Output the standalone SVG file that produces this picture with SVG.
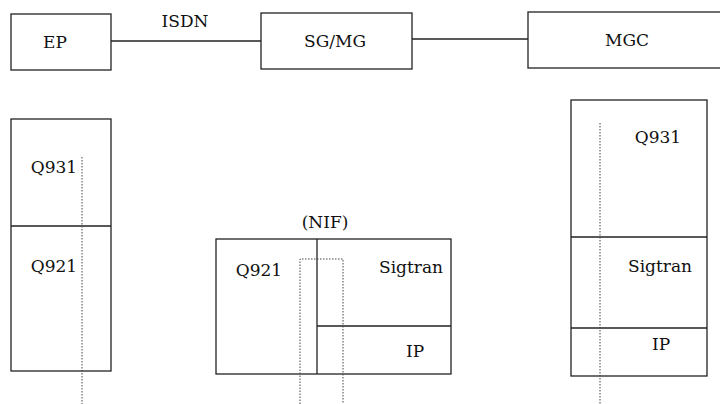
<svg xmlns="http://www.w3.org/2000/svg" width="720" height="404" viewBox="0 0 720 404">
<style>
.box{fill:none;stroke:#222;stroke-width:1.3}
.ln{stroke:#222;stroke-width:1.3;fill:none}
.dot{stroke:#444;stroke-width:1;stroke-dasharray:1.5 1.5;fill:none}
.t{font-size:17px;fill:#111;font-family:"DejaVu Serif",serif}
</style>
<rect width="720" height="404" fill="#fff"/>
<g id="connectors">
<line class="ln" x1="111" y1="41" x2="261" y2="41"/>
<line class="ln" x1="412" y1="39" x2="528" y2="39"/>
<text class="t" x="185" y="27" text-anchor="middle">ISDN</text>
</g>
<g id="EP">
<rect class="box" x="11" y="14" width="100" height="56"/>
<text class="t" x="55" y="48" text-anchor="middle">EP</text>
</g>
<g id="SGMG">
<rect class="box" x="261" y="13" width="151" height="56"/>
<text class="t" x="335" y="47" text-anchor="middle">SG/MG</text>
</g>
<g id="MGC">
<rect class="box" x="528" y="12" width="200" height="56"/>
<text class="t" x="627" y="46" text-anchor="middle">MGC</text>
</g>
<g id="EP-stack">
<rect class="box" x="11" y="119" width="100" height="252"/>
<line class="ln" x1="11" y1="226" x2="111" y2="226"/>
<text class="t" x="54" y="173" text-anchor="middle">Q931</text>
<text class="t" x="54" y="272" text-anchor="middle">Q921</text>
<line class="dot" x1="82" y1="157" x2="82" y2="404"/>
</g>
<g id="SGMG-stack">
<rect class="box" x="216" y="239" width="235" height="135"/>
<line class="ln" x1="317" y1="239" x2="317" y2="374"/>
<line class="ln" x1="317" y1="326" x2="451" y2="326"/>
<text class="t" x="325" y="228" text-anchor="middle">(NIF)</text>
<text class="t" x="259" y="276" text-anchor="middle">Q921</text>
<text class="t" x="411" y="273" text-anchor="middle">Sigtran</text>
<text class="t" x="415" y="357" text-anchor="middle">IP</text>
<path class="dot" d="M300,404 V259 H343 V404"/>
</g>
<g id="MGC-stack">
<rect class="box" x="571" y="100" width="136" height="276"/>
<line class="ln" x1="571" y1="237" x2="707" y2="237"/>
<line class="ln" x1="571" y1="328" x2="707" y2="328"/>
<text class="t" x="658" y="143" text-anchor="middle">Q931</text>
<text class="t" x="660" y="272" text-anchor="middle">Sigtran</text>
<text class="t" x="661" y="350" text-anchor="middle">IP</text>
<line class="dot" x1="600" y1="123" x2="600" y2="404"/>
</g>
</svg>
